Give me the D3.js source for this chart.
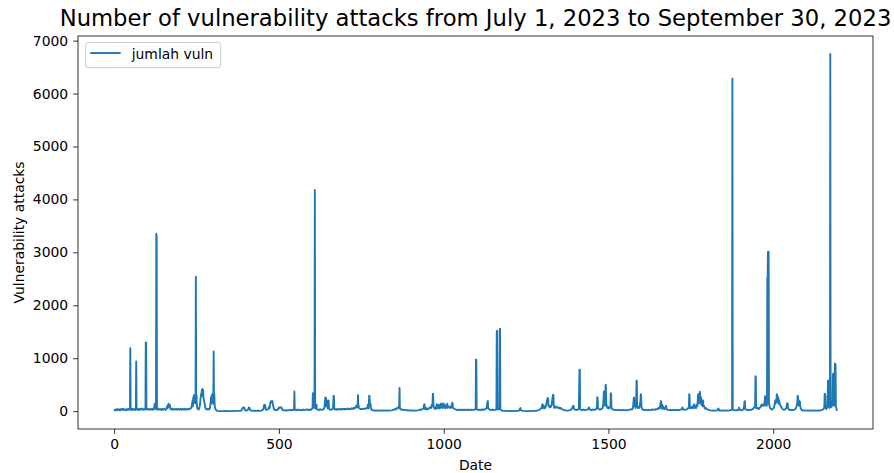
<!DOCTYPE html>
<html>
<head>
<meta charset="utf-8">
<script src="https://cdn.jsdelivr.net/npm/d3@7/dist/d3.min.js"></script>
<style>
  html, body { margin: 0; padding: 0; background: #ffffff; }
  svg { display: block; font-family: "DejaVu Sans", sans-serif; }
</style>
</head>
<body>
<svg id="chart" width="894" height="473"></svg>
<script>
// Hourly counts of vulnerability attacks, as [hour index, count] readings.
const julyReadings = [
  [0,5],[3,30],[6,15],[9,40],[12,20],[15,35],[18,10],[21,40],[24,25],[27,45],[30,20],[33,35],[36,15],[39,40],[42,25],[45,45],[47,30],[48,60],[49,1190],[50,40],
  [52,20],[55,45],[58,25],[61,40],[64,20],[66,50],[67,940],[68,45],[70,25],[73,40],[76,20],[79,45],[82,30],[85,50],[88,25],[91,40],[94,30],[95,60],[96,1300],[97,1290],
  [98,50],[100,30],[103,45],[106,25],[109,40],[112,30],[115,45],[118,25],[121,40],[123,140],[124,130],[125,40],[127,45],[128,3350],[129,3300],[130,40],[132,25],[135,45],[138,30],[141,40],
  [144,20],[147,45],[150,30],[153,40],[156,25],[159,45],[161,100],[163,60],[165,140],[167,80],[169,120],[171,40],[174,30],[177,45],[180,25],[183,40],[186,30],[189,45],[192,25],[195,40],
  [198,30],[201,45],[204,25],[207,40],[210,30],[213,45],[216,25],[219,40],[222,30],[225,45],[228,35],[231,50],[234,60],[236,120],[238,200],[239,90],[240,260],[241,150],[242,300],[243,180],
  [244,290],[245,220],[246,310],[247,150],[248,2540],[249,280],[250,300],[251,120],[252,60],[254,40],[256,30],[258,50],[260,100],[262,220],[264,330],[265,280],[266,400],[267,360],[268,420],[269,300],
  [270,400],[271,260],[273,200],[275,120],[277,60],[279,40],[282,30],[285,45],[288,30],[291,60],[293,180],[294,260],[295,150],[296,300],[297,220],[298,320],[299,160],[300,330],[301,140],[302,1130],
  [303,220],[304,320],[305,120],[306,60],[308,35],[310,15],[314,5],[320,0],[330,0],[340,5],[350,0],[360,0],[370,5],[380,5],[386,10],[389,40],[391,70],[393,60],[395,65],[397,20],
  [400,10],[404,15],[407,40],[409,70],[411,60],[413,15],[417,10],[421,5],[426,10],[431,5],[436,10],[441,5],[446,10],[450,20],[453,40],[455,110],[456,120],[458,115],[460,40],[462,25],
  [465,30],[468,40],[470,80],[472,60],[474,160],[476,190],[478,170],[480,190],[482,120],[484,60],[486,30],[489,20],[492,25],[495,20],[498,40],[500,70],[502,60],[504,70],[506,65],[508,70],
  [510,30],[513,15],[517,20],[521,10],[525,20],[529,15],[533,25],[537,15],[541,25],[544,20],[546,40],[547,370],[548,40],[550,25],[553,15],[557,30],[561,20],[565,25],[569,15],[573,30],
  [577,20],[581,25],[585,35],[589,20],[593,30],[597,25],[600,40],[602,60],[603,340],[604,80],[606,100],[607,60],[608,90],[609,4180],[610,70],[611,90],[612,50],[614,120],[615,40],[618,30],
  [621,20],[625,35],[629,25],[633,30],[636,40],[638,70],[640,200],[641,260],[642,110],[643,250],[644,90],[646,200],[647,170],[648,50],[650,180],[651,200],[652,60],[654,30],[657,25],[661,35],
  [664,50],[666,290],[667,280],[668,40],[670,30],[673,40],[676,25],[679,40],[682,30],[685,45],[688,30],[691,40],[694,35],[697,45],[700,30],[703,45],[706,35],[709,50],[712,35],[715,45],
  [718,40],[721,55],[724,40],[727,60],[730,50],[733,80],[735,100],[737,70],[739,130],[740,300],[741,120],[742,90],[743,60]
];

const augustReadings = [
  [744,50],[747,40],[750,35],[753,45],[756,40],[759,50],[762,40],[765,55],[768,60],[770,120],[772,50],[774,290],[775,280],[776,100],[777,150],[778,140],[779,60],[781,30],[784,20],[788,10],
  [792,15],[796,10],[800,15],[805,10],[810,15],[815,10],[820,15],[825,10],[830,15],[835,10],[840,15],[844,20],[848,30],[852,40],[855,30],[858,60],[861,50],[863,80],[865,100],[866,440],
  [867,60],[869,40],[872,25],[876,30],[880,20],[884,25],[888,15],[892,20],[896,10],[900,15],[905,10],[910,15],[915,10],[920,15],[924,20],[928,30],[932,25],[936,40],[939,60],[941,130],
  [942,120],[943,40],[946,60],[948,30],[951,50],[954,40],[957,60],[960,80],[962,60],[964,120],[966,90],[967,330],[968,320],[969,100],[971,60],[974,40],[977,80],[979,130],[980,50],[983,60],
  [985,120],[986,50],[989,80],[991,140],[992,60],[995,90],[997,150],[998,60],[1001,100],[1003,130],[1005,50],[1007,100],[1009,80],[1011,140],[1012,60],[1014,80],[1017,70],[1019,90],[1021,60],[1024,80],
  [1026,160],[1027,150],[1028,60],[1031,50],[1034,40],[1038,30],[1042,20],[1046,30],[1050,20],[1054,30],[1058,20],[1062,30],[1066,20],[1070,25],[1074,30],[1078,20],[1082,30],[1086,20],[1090,25],[1094,30],
  [1097,40],[1098,975],[1099,970],[1100,40],[1102,30],[1106,20],[1110,30],[1114,20],[1118,35],[1122,25],[1126,40],[1130,50],[1133,180],[1134,190],[1135,60],[1137,40],[1140,30],[1144,20],[1148,30],[1152,20],
  [1156,25],[1159,30],[1160,40],[1161,1510],[1162,1520],[1163,50],[1165,30],[1167,60],[1169,40],[1170,1540],[1171,1555],[1172,40],[1174,20],[1178,10],[1182,5],[1188,5],[1195,0],[1202,5],[1210,0],[1218,5],
  [1226,5],[1230,20],[1232,50],[1233,60],[1234,20],[1237,10],[1242,5],[1250,0],[1260,0],[1270,5],[1280,5],[1286,15],[1290,25],[1294,40],[1297,60],[1299,120],[1300,130],[1301,60],[1303,110],[1304,50],
  [1306,80],[1308,60],[1311,120],[1313,200],[1316,250],[1317,240],[1318,100],[1320,110],[1322,70],[1325,80],[1328,130],[1330,250],[1332,310],[1333,300],[1334,100],[1336,60],[1338,90],[1340,70],[1343,80],[1346,60],
  [1349,70],[1352,50],[1355,60],[1358,40],[1362,30],[1366,20],[1370,15],[1375,10],[1380,15],[1385,20],[1389,40],[1391,80],[1393,100],[1394,90],[1396,40],[1399,30],[1402,20],[1406,30],[1410,40],[1412,785],
  [1413,780],[1414,40],[1416,30],[1420,20],[1424,30],[1428,20],[1432,25],[1436,30],[1439,40],[1441,70],[1442,60],[1444,30],[1448,20],[1452,30],[1456,25],[1460,30],[1463,40],[1465,80],[1466,265],[1467,250],
  [1468,60],[1470,40],[1473,30],[1476,35],[1479,40],[1482,60],[1484,120],[1486,370],[1487,200]
];

const septemberReadings = [
  [1488,120],[1490,100],[1491,490],[1492,500],[1493,150],[1495,100],[1497,60],[1499,80],[1501,50],[1504,60],[1506,100],[1507,340],[1508,330],[1509,80],[1511,40],[1514,30],[1518,25],[1522,20],[1526,25],[1530,20],
  [1534,25],[1538,15],[1542,20],[1546,25],[1550,20],[1554,15],[1558,20],[1562,25],[1566,30],[1570,35],[1573,40],[1575,100],[1577,260],[1578,250],[1579,90],[1581,120],[1582,60],[1584,100],[1585,570],[1586,580],
  [1587,120],[1589,60],[1591,80],[1593,60],[1595,100],[1597,200],[1598,320],[1599,310],[1600,80],[1602,40],[1605,30],[1609,20],[1613,25],[1617,20],[1621,25],[1625,20],[1629,25],[1633,30],[1637,25],[1641,30],
  [1645,35],[1649,40],[1652,60],[1655,50],[1657,100],[1659,190],[1660,180],[1661,60],[1663,120],[1664,40],[1666,90],[1668,60],[1670,40],[1673,60],[1675,100],[1676,40],[1679,25],[1683,20],[1687,25],[1691,20],
  [1695,25],[1699,20],[1703,25],[1707,20],[1711,25],[1715,20],[1719,30],[1722,40],[1724,70],[1725,60],[1727,30],[1731,25],[1735,30],[1739,40],[1742,50],[1744,100],[1745,320],[1746,310],[1747,60],[1749,50],
  [1751,80],[1753,60],[1756,90],[1758,60],[1760,130],[1761,120],[1762,60],[1764,80],[1766,60],[1768,120],[1770,100],[1772,320],[1773,200],[1775,240],[1776,150],[1777,365],[1778,350],[1779,180],[1781,260],[1782,120],
  [1784,200],[1785,100],[1787,200],[1788,90],[1790,100],[1792,50],[1795,60],[1798,40],[1802,30],[1806,20],[1810,15],[1815,10],[1820,15],[1825,10],[1830,15],[1833,50],[1834,45],[1836,10],[1840,15],[1845,10],
  [1850,15],[1855,10],[1860,15],[1865,10],[1870,20],[1874,30],[1875,40],[1876,6280],[1877,40],[1879,20],[1883,15],[1887,20],[1891,15],[1895,30],[1896,65],[1897,60],[1899,20],[1903,15],[1907,25],[1910,40],
  [1912,120],[1913,190],[1914,180],[1915,40],[1918,30],[1922,20],[1926,25],[1930,20],[1934,30],[1938,40],[1941,60],[1943,80],[1945,90],[1946,660],[1947,650],[1948,60],[1950,50],[1953,60],[1956,40],[1959,60],
  [1962,80],[1964,120],[1966,130],[1967,100],[1970,120],[1972,100],[1974,200],[1975,280],[1976,270],[1977,120],[1979,150],[1980,100],[1981,120],[1982,2520],[1983,2530],[1984,3010],[1985,3000],[1986,3010],[1987,150],[1988,120],
  [1990,60],[1993,40],[1996,30],[1999,50],[2002,60],[2004,120],[2006,200],[2008,150],[2010,250],[2011,320],[2012,300],[2013,180],[2015,260],[2016,140],[2018,200],[2020,130],[2022,100],[2024,80],[2026,60],[2028,40],
  [2031,30],[2034,25],[2037,40],[2040,60],[2042,150],[2043,145],[2044,140],[2045,50],[2048,30],[2052,20],[2056,25],[2060,20],[2064,30],[2067,40],[2069,60],[2071,100],[2073,150],[2074,290],[2075,280],[2076,120],
  [2078,200],[2079,100],[2081,180],[2082,90],[2084,40],[2087,20],[2091,10],[2096,15],[2101,10],[2106,15],[2111,10],[2116,15],[2121,10],[2126,15],[2131,10],[2136,15],[2141,10],[2146,20],[2150,30],[2153,40],
  [2155,80],[2156,330],[2157,320],[2158,300],[2159,60],[2161,40],[2163,60],[2165,120],[2166,580],[2167,570],[2168,560],[2169,80],[2171,60],[2172,100],[2173,6750],[2174,100],[2176,80],[2178,100],[2180,200],[2181,700],
  [2182,690],[2183,710],[2184,100],[2186,150],[2187,900],[2188,890],[2189,880],[2190,100],[2192,40],[2193,5]
];

const xTicks = [0, 500, 1000, 1500, 2000];
const yTicks = [0, 1000, 2000, 3000, 4000, 5000, 6000, 7000];
const seriesName = "jumlah vuln";
const chartTitle = "Number of vulnerability attacks from July 1, 2023 to September 30, 2023";
const xLabel = "Date";
const yLabel = "Vulnerability attacks";

const readings = julyReadings.concat(augustReadings, septemberReadings)
  .map(([hour, count]) => ({ hour, count }));

const box = { left: 78, right: 873, top: 36, bottom: 429 };
const svg = d3.select("#chart");

// Axis limits padded 5% on each side of the data extent.
const [hMin, hMax] = d3.extent(readings, d => d.hour);
const [cMin, cMax] = d3.extent(readings, d => d.count);
const hPad = (hMax - hMin) * 0.05, cPad = (cMax - cMin) * 0.05;

const x = d3.scaleLinear().domain([hMin - hPad, hMax + hPad]).range([box.left, box.right]);
const y = d3.scaleLinear().domain([cMin - cPad, cMax + cPad]).range([box.bottom, box.top]);

const tickLen = 4.9, tickPad = 4.9, tickFont = 13.9;
const lineColor = "#1f77b4", lineWidth = 1.9;

svg.append("defs").append("clipPath").attr("id", "plot-clip")
  .append("rect")
  .attr("x", box.left).attr("y", box.top)
  .attr("width", box.right - box.left).attr("height", box.bottom - box.top);

// Series line
svg.append("path")
  .datum(readings)
  .attr("clip-path", "url(#plot-clip)")
  .attr("fill", "none")
  .attr("stroke", lineColor)
  .attr("stroke-width", lineWidth)
  .attr("stroke-linejoin", "round")
  .attr("d", d3.line().x(d => x(d.hour)).y(d => y(d.count)));

// Axes
const xAxis = svg.append("g")
  .attr("transform", `translate(0,${box.bottom})`)
  .call(d3.axisBottom(x).tickValues(xTicks).tickFormat(d3.format("d"))
    .tickSize(tickLen).tickSizeOuter(0).tickPadding(tickPad));
const yAxis = svg.append("g")
  .attr("transform", `translate(${box.left},0)`)
  .call(d3.axisLeft(y).tickValues(yTicks).tickFormat(d3.format("d"))
    .tickSize(tickLen).tickSizeOuter(0).tickPadding(tickPad));

[xAxis, yAxis].forEach(g => {
  g.select(".domain").remove();
  g.selectAll(".tick line").attr("stroke", "#000").attr("stroke-width", 0.8);
  g.selectAll(".tick text")
    .attr("fill", "#000")
    .style("font-family", "'DejaVu Sans', sans-serif")
    .style("font-size", tickFont + "px");
});

// Frame
svg.append("rect")
  .attr("x", box.left).attr("y", box.top)
  .attr("width", box.right - box.left).attr("height", box.bottom - box.top)
  .attr("fill", "none").attr("stroke", "#000").attr("stroke-width", 0.8);

// Title and axis labels
const midX = (box.left + box.right) / 2;
svg.append("text")
  .attr("x", midX).attr("y", 26)
  .attr("text-anchor", "middle")
  .style("font-size", "22.7px")
  .text(chartTitle);

svg.append("text")
  .attr("x", midX).attr("y", 470)
  .attr("text-anchor", "middle")
  .style("font-size", "13.9px")
  .text(xLabel);

svg.append("text")
  .attr("transform", `translate(24,${(box.top + box.bottom) / 2}) rotate(-90)`)
  .attr("text-anchor", "middle")
  .style("font-size", "13.9px")
  .text(yLabel);

// Legend
const legend = svg.append("g").attr("transform", "translate(85.7,42.5)");
legend.append("rect")
  .attr("width", 135).attr("height", 25.2).attr("rx", 2.8)
  .attr("fill", "#ffffff").attr("fill-opacity", 0.8)
  .attr("stroke", "#cccccc").attr("stroke-width", 1);
legend.append("line")
  .attr("x1", 4.5).attr("x2", 35).attr("y1", 10.5).attr("y2", 10.5)
  .attr("stroke", lineColor).attr("stroke-width", lineWidth);
legend.append("text")
  .attr("x", 46).attr("y", 16)
  .style("font-size", "13.9px")
  .attr("fill", "#000")
  .text(seriesName);
</script>
</body>
</html>
